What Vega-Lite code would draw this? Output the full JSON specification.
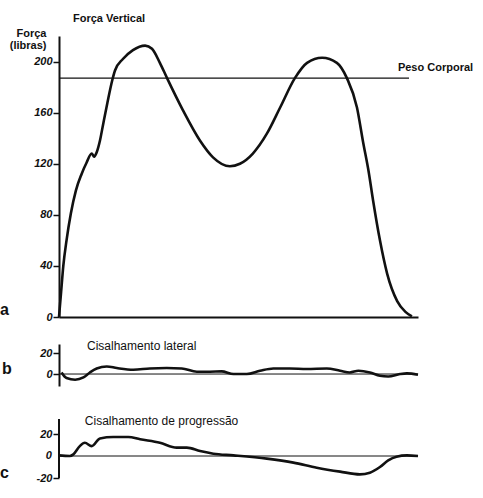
{
  "$schema": "https://vega.github.io/schema/vega-lite/v6.json",
  "background": "white",
  "padding": {"left": 0, "top": 13, "right": 5, "bottom": 5},
  "bounds": "flush",
  "spacing": 27,
  "config": {
    "view": {"stroke": null},
    "font": "Liberation Sans",
    "axis": {
      "grid": false,
      "domainColor": "#111",
      "tickColor": "#111",
      "labelColor": "#111",
      "titleColor": "#111",
      "labelFont": "Liberation Sans",
      "labelFontSize": 11,
      "labelFontWeight": "bold",
      "labelFontStyle": "italic",
      "labelOverlap": false,
      "tickSize": 6,
      "tickWidth": 1.5,
      "domainWidth": 2,
      "labelPadding": 1
    }
  },
  "vconcat": [
    {
      "width": 359,
      "height": 281,
      "layer": [
        {
          "data": {"values": [
            {"t": 0, "f": 0}, {"t": 0.6, "f": 20}, {"t": 1.2, "f": 40}, {"t": 2.1, "f": 60},
            {"t": 3.3, "f": 81}, {"t": 4.7, "f": 99}, {"t": 6.3, "f": 112}, {"t": 7.7, "f": 121},
            {"t": 9.1, "f": 128}, {"t": 9.8, "f": 125.5}, {"t": 10.5, "f": 129}, {"t": 11.4, "f": 138},
            {"t": 12.3, "f": 151}, {"t": 13.5, "f": 168}, {"t": 14.8, "f": 185},
            {"t": 15.6, "f": 193}, {"t": 17.8, "f": 202}, {"t": 20.6, "f": 209}, {"t": 24, "f": 212.5},
            {"t": 25.9, "f": 210}, {"t": 28.1, "f": 199}, {"t": 30.1, "f": 187}, {"t": 34.5, "f": 162},
            {"t": 39.3, "f": 138}, {"t": 42.9, "f": 125}, {"t": 47.6, "f": 118}, {"t": 50.4, "f": 120},
            {"t": 54, "f": 128}, {"t": 57.9, "f": 143.5}, {"t": 61.6, "f": 164}, {"t": 65.7, "f": 187},
            {"t": 69.1, "f": 199}, {"t": 73.3, "f": 203}, {"t": 77.4, "f": 199}, {"t": 80.2, "f": 187},
            {"t": 83, "f": 164}, {"t": 84.7, "f": 137}, {"t": 86.3, "f": 113}, {"t": 87.5, "f": 91},
            {"t": 89.4, "f": 60}, {"t": 91.4, "f": 34}, {"t": 94.2, "f": 12.5}, {"t": 96.5, "f": 4},
            {"t": 98.3, "f": 0.5}
          ]},
          "mark": {"type": "line", "color": "#111", "strokeWidth": 2.6, "interpolate": "monotone"},
          "encoding": {
            "x": {"field": "t", "type": "quantitative", "scale": {"domain": [0, 100], "nice": false},
                  "axis": {"ticks": false, "labels": false, "title": null, "domainWidth": 2}},
            "y": {"field": "f", "type": "quantitative", "scale": {"domain": [0, 220], "nice": false},
                  "axis": {
                    "values": [0, 20, 40, 60, 80, 100, 120, 140, 160, 180, 200, 220],
                    "labelExpr": "datum.value % 40 == 0 && datum.value <= 200 ? datum.label : ''",
                    "title": ["Força", "(libras)"],
                    "titleAngle": 0,
                    "titleAlign": "right",
                    "titleBaseline": "top",
                    "titleX": -13,
                    "titleY": -9,
                    "titleFont": "Liberation Sans",
                    "titleFontSize": 11,
                    "titleFontWeight": "bold",
                    "titleLineHeight": 12
                  }}
          }
        },
        {
          "data": {"values": [{"t": 0, "t2": 97.5, "f": 187}]},
          "mark": {"type": "rule", "color": "#111", "strokeWidth": 1.4},
          "encoding": {
            "x": {"field": "t", "type": "quantitative", "scale": {"domain": [0, 100], "nice": false}},
            "x2": {"field": "t2"},
            "y": {"field": "f", "type": "quantitative", "scale": {"domain": [0, 220], "nice": false}}
          }
        },
        {
          "data": {"values": [
            {"t": 3.9, "f": 230.6, "label": "Força Vertical"},
            {"t": 94.4, "f": 192.9, "label": "Peso Corporal"}
          ]},
          "mark": {"type": "text", "align": "left", "baseline": "alphabetic", "font": "Liberation Sans", "fontSize": 11, "fontWeight": "bold", "color": "#111"},
          "encoding": {
            "x": {"field": "t", "type": "quantitative", "scale": {"domain": [0, 100], "nice": false}},
            "y": {"field": "f", "type": "quantitative", "scale": {"domain": [0, 220], "nice": false}},
            "text": {"field": "label"}
          }
        },
        {
          "data": {"values": [{"t": -16.4, "f": 1.6, "label": "a"}]},
          "mark": {"type": "text", "align": "left", "baseline": "alphabetic", "font": "Liberation Sans", "fontSize": 16, "fontWeight": "bold", "color": "#111"},
          "encoding": {
            "x": {"field": "t", "type": "quantitative", "scale": {"domain": [0, 100], "nice": false}},
            "y": {"field": "f", "type": "quantitative", "scale": {"domain": [0, 220], "nice": false}},
            "text": {"field": "label"}
          }
        }
      ]
    },
    {
      "width": 359,
      "height": 42,
      "layer": [
        {
          "data": {"values": [{"t": 0, "t2": 100, "v": 0}]},
          "mark": {"type": "rule", "color": "#111", "strokeWidth": 1},
          "encoding": {
            "x": {"field": "t", "type": "quantitative", "scale": {"domain": [0, 100], "nice": false}, "axis": null},
            "x2": {"field": "t2"},
            "y": {"field": "v", "type": "quantitative", "scale": {"domain": [-11.4, 28.6], "nice": false},
                  "axis": {"values": [0, 20], "title": null}}
          }
        },
        {
          "data": {"values": [
            {"t": 0.7, "v": 1.5}, {"t": 2.1, "v": -3.8}, {"t": 4.5, "v": -5.4}, {"t": 6.8, "v": -3.2},
            {"t": 8.6, "v": 1.5}, {"t": 10.5, "v": 5.3}, {"t": 13.3, "v": 7.2}, {"t": 16.1, "v": 5.7},
            {"t": 20.7, "v": 4.1}, {"t": 25.3, "v": 5.3}, {"t": 30, "v": 5.7}, {"t": 34.2, "v": 5.3},
            {"t": 38.4, "v": 2.2}, {"t": 42, "v": 2.2}, {"t": 45.3, "v": 2.5}, {"t": 48.6, "v": 0},
            {"t": 52.3, "v": 0}, {"t": 56, "v": 3.1}, {"t": 59.7, "v": 5.3}, {"t": 64.3, "v": 5.3},
            {"t": 69, "v": 4.8}, {"t": 74.6, "v": 5.3}, {"t": 78.3, "v": 3.1}, {"t": 81, "v": 1.5},
            {"t": 83.4, "v": 3.1}, {"t": 86.6, "v": 1.5}, {"t": 89.4, "v": -1.6}, {"t": 91.7, "v": -2.3},
            {"t": 95, "v": 0}, {"t": 96.9, "v": 0.6}, {"t": 100, "v": -0.7}
          ]},
          "mark": {"type": "line", "color": "#111", "strokeWidth": 2.6, "interpolate": "monotone"},
          "encoding": {
            "x": {"field": "t", "type": "quantitative", "scale": {"domain": [0, 100], "nice": false}},
            "y": {"field": "v", "type": "quantitative", "scale": {"domain": [-11.4, 28.6], "nice": false}}
          }
        },
        {
          "data": {"values": [{"t": 7.8, "v": 22.9, "label": "Cisalhamento lateral"}]},
          "mark": {"type": "text", "align": "left", "baseline": "alphabetic", "font": "Liberation Sans", "fontSize": 12, "color": "#111"},
          "encoding": {
            "x": {"field": "t", "type": "quantitative", "scale": {"domain": [0, 100], "nice": false}},
            "y": {"field": "v", "type": "quantitative", "scale": {"domain": [-11.4, 28.6], "nice": false}},
            "text": {"field": "label"}
          }
        },
        {
          "data": {"values": [{"t": -15.9, "v": 0, "label": "b"}]},
          "mark": {"type": "text", "align": "left", "baseline": "alphabetic", "font": "Liberation Sans", "fontSize": 16, "fontWeight": "bold", "color": "#111"},
          "encoding": {
            "x": {"field": "t", "type": "quantitative", "scale": {"domain": [0, 100], "nice": false}},
            "y": {"field": "v", "type": "quantitative", "scale": {"domain": [-11.4, 28.6], "nice": false}},
            "text": {"field": "label"}
          }
        }
      ]
    },
    {
      "width": 359,
      "height": 65,
      "layer": [
        {
          "data": {"values": [
            {"t": 0, "v": 0.6}, {"t": 3, "v": 0}, {"t": 4, "v": 1.5}, {"t": 5.8, "v": 9},
            {"t": 7.2, "v": 12}, {"t": 9.1, "v": 9}, {"t": 11.4, "v": 16}, {"t": 15.1, "v": 17.3},
            {"t": 19.3, "v": 17.3}, {"t": 22.6, "v": 15.2}, {"t": 28.1, "v": 12}, {"t": 32.8, "v": 7.6},
            {"t": 35.6, "v": 7.6}, {"t": 39.3, "v": 4.5}, {"t": 43, "v": 2.1}, {"t": 48.6, "v": 0.6},
            {"t": 57.9, "v": -2.4}, {"t": 65.3, "v": -6}, {"t": 71.8, "v": -10.6}, {"t": 78.3, "v": -14.2},
            {"t": 83.8, "v": -16.7}, {"t": 86.6, "v": -15.2}, {"t": 89.4, "v": -10}, {"t": 91.7, "v": -4},
            {"t": 94, "v": -0.6}, {"t": 96.9, "v": 0.6}, {"t": 100, "v": 0}
          ]},
          "mark": {"type": "line", "color": "#111", "strokeWidth": 2.6, "interpolate": "monotone"},
          "encoding": {
            "x": {"field": "t", "type": "quantitative", "scale": {"domain": [0, 100], "nice": false}, "axis": null},
            "y": {"field": "v", "type": "quantitative", "scale": {"domain": [-20, 39.1], "nice": false},
                  "axis": {"values": [20, 0, -20], "title": null, "domainOpacity": 0, "labelOverlap": false,
                           "labelExpr": "datum.value < 0 ? '-' + abs(datum.value) : datum.value == 0 ? '0' : datum.label"}}
          }
        },
        {
          "data": {"values": [{"t": 0, "t2": 100, "v": 0}]},
          "mark": {"type": "rule", "color": "#111", "strokeWidth": 1},
          "encoding": {
            "x": {"field": "t", "type": "quantitative", "scale": {"domain": [0, 100], "nice": false}},
            "x2": {"field": "t2"},
            "y": {"field": "v", "type": "quantitative", "scale": {"domain": [-20, 39.1], "nice": false}}
          }
        },
        {
          "data": {"values": [{"t": 0, "v": -20, "v2": 33.6}]},
          "mark": {"type": "rule", "color": "#111", "strokeWidth": 2},
          "encoding": {
            "x": {"field": "t", "type": "quantitative", "scale": {"domain": [0, 100], "nice": false}},
            "y": {"field": "v", "type": "quantitative", "scale": {"domain": [-20, 39.1], "nice": false}},
            "y2": {"field": "v2"}
          }
        },
        {
          "data": {"values": [{"t": 7.2, "v": 28.2, "label": "Cisalhamento de progressão"}]},
          "mark": {"type": "text", "align": "left", "baseline": "alphabetic", "font": "Liberation Sans", "fontSize": 12, "color": "#111"},
          "encoding": {
            "x": {"field": "t", "type": "quantitative", "scale": {"domain": [0, 100], "nice": false}},
            "y": {"field": "v", "type": "quantitative", "scale": {"domain": [-20, 39.1], "nice": false}},
            "text": {"field": "label"}
          }
        },
        {
          "data": {"values": [{"t": -1.95, "v": 0, "label": "0"}]},
          "mark": {"type": "text", "align": "right", "baseline": "middle", "font": "Liberation Sans", "fontSize": 11, "fontWeight": "bold", "fontStyle": "italic", "color": "#111"},
          "encoding": {
            "x": {"field": "t", "type": "quantitative", "scale": {"domain": [0, 100], "nice": false}},
            "y": {"field": "v", "type": "quantitative", "scale": {"domain": [-20, 39.1], "nice": false}},
            "text": {"field": "label"}
          }
        },
        {
          "data": {"values": [{"t": -16.4, "v": -20, "label": "c"}]},
          "mark": {"type": "text", "align": "left", "baseline": "alphabetic", "font": "Liberation Sans", "fontSize": 16, "fontWeight": "bold", "color": "#111"},
          "encoding": {
            "x": {"field": "t", "type": "quantitative", "scale": {"domain": [0, 100], "nice": false}},
            "y": {"field": "v", "type": "quantitative", "scale": {"domain": [-20, 39.1], "nice": false}},
            "text": {"field": "label"}
          }
        }
      ]
    }
  ]
}
